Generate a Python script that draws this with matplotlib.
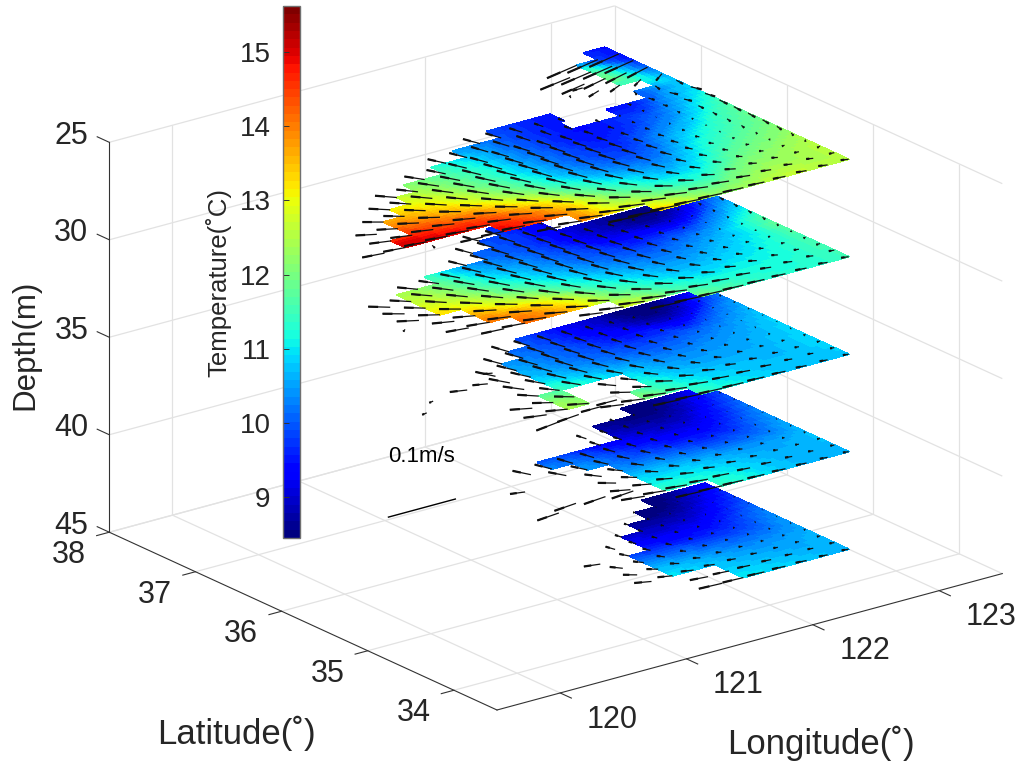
import numpy as np
import matplotlib
matplotlib.use('Agg')
import matplotlib.pyplot as plt
import matplotlib.tri as mtri
from matplotlib.colors import Normalize
from matplotlib.cm import ScalarMappable
from mpl_toolkits.mplot3d import proj3d
from mpl_toolkits.mplot3d.art3d import Poly3DCollection

plt.rcParams['font.family'] = ['Liberation Sans', 'DejaVu Sans']

# ---------- axes data ----------
lon_ticks = [120, 121, 122, 123]
lat_ticks = [34, 35, 36, 37, 38]
depth_ticks = [25, 30, 35, 40, 45]
cbar_ticks = [9, 10, 11, 12, 13, 14, 15]
t_min, t_max = 8.45, 15.62

# ---------- field knots ----------
knot_lon = [120, 120.5, 121, 121.5, 122, 122.5, 123]
knot_lat = [34.5, 35, 35.5, 36, 36.5, 37, 37.5]
row_lat0, cell = 34.55, 1 / 6

T25 = [[15.4, 15.0, 14.2, 13.6, 12.4, 12.7, 12.6],
       [15.2, 14.8, 13.6, 11.8, 11.0, 12.0, 12.5],
       [13.8, 13.2, 11.9, 10.5, 10.0, 11.2, 12.0],
       [12.6, 12.2, 11.3, 10.1, 9.5, 10.2, 11.6],
       [12.0, 11.5, 10.5, 9.9, 9.5, 9.6, 10.8],
       [11.0, 10.5, 10.0, 9.8, 10.0, 12.2, 9.7],
       [10.0, 10.0, 10.0, 9.8, 9.6, 9.6, 9.4]]
T30 = [[14.4, 14.4, 14.2, 13.4, 11.8, 11.3, 11.5],
       [14.4, 14.2, 13.4, 11.6, 10.8, 11.0, 11.6],
       [13.2, 12.8, 11.5, 10.5, 10.0, 10.4, 11.7],
       [12.5, 12.0, 10.5, 9.9, 9.0, 8.7, 10.5],
       [12.0, 11.0, 10.0, 9.7, 8.9, 8.8, 9.8],
       [10.5, 10.0, 9.5, 9.2, 9.0, 9.2, 9.5],
       [10.0, 9.6, 9.4, 9.2, 9.0, 9.2, 9.4]]
T35 = [[13.0, 13.0, 12.8, 12.6, 11.3, 10.8, 10.8],
       [12.6, 12.6, 12.3, 11.5, 10.7, 10.6, 10.9],
       [11.5, 11.4, 11.0, 10.4, 10.0, 10.2, 10.8],
       [10.8, 10.6, 10.4, 10.0, 9.2, 8.6, 10.3],
       [10.4, 10.2, 10.0, 9.8, 9.0, 8.6, 9.6],
       [10.0, 9.8, 9.6, 9.2, 9.0, 8.9, 9.2],
       [9.8, 9.6, 9.4, 9.2, 9.0, 8.9, 9.0]]
T40 = [[13.0, 13.0, 12.5, 12.2, 11.5, 10.8, 10.6],
       [12.0, 12.0, 11.5, 11.0, 10.8, 10.5, 10.7],
       [11.0, 11.0, 10.5, 10.3, 9.6, 9.4, 10.4],
       [10.5, 10.5, 10.2, 9.3, 8.7, 8.6, 9.9],
       [10.0, 10.0, 9.5, 8.9, 8.6, 8.5, 9.4],
       [9.5, 9.5, 9.3, 9.0, 8.7, 8.6, 9.0],
       [9.5, 9.3, 9.2, 9.0, 8.7, 8.6, 8.8]]
T45 = [[12.0, 12.0, 12.0, 11.8, 11.2, 10.9, 10.7],
       [11.5, 11.5, 11.0, 11.0, 10.7, 10.4, 10.6],
       [11.0, 10.8, 10.5, 10.2, 9.4, 9.4, 10.3],
       [10.0, 10.0, 9.8, 9.1, 8.5, 8.5, 9.6],
       [9.5, 9.5, 9.2, 8.7, 8.5, 8.5, 9.1],
       [9.3, 9.3, 9.0, 8.7, 8.6, 8.6, 8.9],
       [9.2, 9.2, 9.0, 8.7, 8.6, 8.6, 8.8]]

U25 = [[-.03, -.03, -.035, -.045, -.035, -.018, -.010],
       [-.03, -.03, -.022, -.015, -.01, -.006, -.005],
       [-.02, -.018, -.012, -.006, -.005, -.003, -.002],
       [-.02, -.015, -.008, -.005, -.003, -.001, -.001],
       [-.02, -.015, -.012, -.007, -.003, -.002, .002],
       [-.03, -.03, -.03, -.025, -.03, -.05, -.05],
       [-.03, -.03, -.03, -.03, -.04, -.05, -.05]]
V25 = [[0, 0, .002, .004, .003, .002, .004],
       [.004, .006, .016, .02, .014, .006, -.005],
       [.016, .02, .028, .032, .024, .005, -.016],
       [.022, .024, .028, .028, .016, 0, -.018],
       [.016, .018, .024, .024, .01, -.008, -.016],
       [.008, .008, .008, .004, 0, -.012, -.015],
       [0, 0, 0, 0, -.01, -.015, -.015]]
U30 = [[-.03, -.03, -.035, -.045, -.035, -.02, -.01],
       [-.03, -.03, -.022, -.015, -.01, -.006, -.005],
       [-.022, -.018, -.012, -.006, -.005, -.003, -.002],
       [-.02, -.015, -.008, -.005, -.003, -.001, -.001],
       [-.02, -.015, -.012, -.006, -.003, -.002, .001],
       [-.025, -.025, -.016, -.016, -.008, -.004, -.008],
       [-.025, -.025, -.016, -.016, -.008, -.008, -.008]]
V30 = [[0, 0, .002, .004, .002, .002, .003],
       [.004, .006, .016, .02, .014, .006, -.002],
       [.016, .02, .028, .03, .022, .003, -.008],
       [.02, .022, .028, .028, .016, 0, -.01],
       [.016, .016, .024, .024, .01, -.005, -.01],
       [.008, .008, .008, .004, 0, 0, -.004],
       [0, 0, 0, 0, 0, 0, 0]]
U35 = [[-.03, -.03, -.035, -.04, -.035, -.02, -.008],
       [-.03, -.03, -.022, -.015, -.01, -.006, -.004],
       [-.024, -.02, -.012, -.006, -.005, -.002, -.001],
       [-.016, -.016, -.008, -.005, -.002, -.001, -.001],
       [-.016, -.016, -.01, -.005, -.002, -.001, .001],
       [-.016, -.016, -.008, -.008, -.004, -.002, -.002],
       [-.016, -.016, -.008, -.008, -.004, -.002, -.002]]
V35 = [[0, .003, .003, .003, .002, .002, .002],
       [.006, .008, .014, .018, .012, .004, -.001],
       [.01, .018, .028, .03, .018, .002, -.002],
       [.01, .018, .028, .028, .014, 0, -.004],
       [.008, .012, .024, .024, .009, -.002, -.005],
       [.004, .004, .004, .004, 0, 0, -.002],
       [0, 0, 0, 0, 0, 0, 0]]
U40 = [[-.03, -.03, -.035, -.04, -.035, -.02, -.008],
       [-.03, -.03, -.025, -.018, -.01, -.005, -.003],
       [-.02, -.02, -.012, -.006, -.004, -.002, -.001],
       [-.012, -.012, -.008, -.004, -.002, -.001, 0],
       [-.012, -.012, -.008, -.004, -.002, -.001, 0],
       [-.008, -.008, -.008, -.004, -.002, -.001, 0],
       [-.008, -.008, -.008, -.004, -.002, -.001, 0]]
V40 = [[-.004, 0, .002, .002, .002, .002, .002],
       [.004, .006, .012, .014, .009, .003, 0],
       [.008, .014, .024, .026, .015, .002, -.001],
       [.008, .014, .024, .024, .012, 0, -.002],
       [.008, .01, .02, .02, .007, -.002, -.002],
       [.004, .004, .004, .004, 0, 0, -.002],
       [0, 0, 0, 0, 0, 0, 0]]
U45 = [[-.03, -.03, -.035, -.035, -.035, -.02, -.01],
       [-.03, -.03, -.022, -.016, -.01, -.005, -.003],
       [-.016, -.016, -.012, -.006, -.003, -.002, -.001],
       [-.01, -.01, -.008, -.003, -.002, -.001, 0],
       [-.01, -.01, -.008, -.003, -.002, -.001, 0],
       [-.008, -.008, -.008, -.003, -.002, -.001, 0],
       [-.008, -.008, -.008, -.003, -.002, -.001, 0]]
V45 = [[-.003, 0, .002, .002, .002, .002, .002],
       [.003, .005, .01, .012, .007, .002, 0],
       [.006, .012, .02, .022, .012, .002, -.001],
       [.006, .012, .02, .02, .01, 0, -.002],
       [.006, .008, .016, .016, .006, -.002, -.002],
       [.003, .003, .003, .003, 0, 0, -.002],
       [0, 0, 0, 0, 0, 0, 0]]

# wet cells: longitude spans for each latitude row, south to north
S25 = [[(121.5, 123)], [(121.0, 123)], [(120.5, 123)], [(119.83, 123)], [(120.0, 123)],
       [(120.0, 123)], [(120.17, 123)], [(120.33, 123)], [(120.5, 123)], [(120.83, 123)],
       [(121.17, 121.95), (122.33, 123)], [(121.5, 122.0), (122.67, 123)], [(122.83, 123)],
       [(122.67, 123)], [(122.67, 123)], [(122.67, 123)], [(122.83, 123)]]
S30 = [[(121.83, 123)], [(121.33, 123)], [(120.67, 123)], [(120.5, 123)], [(120.5, 123)],
       [(120.33, 123)], [(120.33, 123)], [(120.33, 123)], [(120.67, 123)], [(121.17, 123)],
       [(121.33, 121.83)], [(121.5, 121.83)]]
S35 = [[(121.83, 123)], [(121.5, 123)], [(121.0, 121.17), (121.67, 123)],
       [(121.0, 121.17), (121.67, 123)], [(121.17, 123)], [(121.17, 123)], [(121.17, 123)],
       [(121.17, 123)], [(121.33, 123)], [(121.5, 123)]]
S40 = [[(122.0, 123)], [(121.67, 123)], [(121.67, 123)], [(121.67, 123)], [(121.67, 123)],
       [(121.5, 123)], [(121.33, 123)], [(122.0, 123)], [(122.0, 123)], [(122.33, 123)]]
S45 = [[(122.17, 123)], [(122.17, 123)], [(121.83, 123)], [(121.83, 123)], [(121.83, 123)],
       [(122.0, 123)], [(122.0, 123)], [(122.17, 123)], [(122.33, 123)], [(122.5, 123)]]

# isolated current arrows off the shaded area: lon, lat, u, v
X25 = [(119.99, 34.97, -.003, -.01), (122.28, 36.72, .004, .008), (122.45, 36.83, -.015, 0)]
X30 = [(120.0, 35.3, -.006, -.005)]
X35 = [(120.71, 35.62, -.02, .008), (120.88, 35.63, -.017, .008), (121.02, 35.78, -.01, .005),
       (120.26, 35.43, -.008, -.002), (120.42, 35.59, -.007, -.002), (120.83, 34.72, -.04, -.008),
       (121.0, 34.75, -.035, -.005), (121.2, 34.78, -.03, 0), (121.35, 34.82, -.03, 0)]
X40 = [(120.89, 34.82, -.035, -.005), (121.08, 34.9, -.035, -.005), (121.3, 34.88, -.035, -.005),
       (121.5, 34.85, -.035, -.005), (120.95, 35.3, -.018, .006)]
X45 = [(121.6, 35.38, -.02, .006)]

layers = [(45, T45, U45, V45, S45, X45), (40, T40, U40, V40, S40, X40),
          (35, T35, U35, V35, S35, X35), (30, T30, U30, V30, S30, X30),
          (25, T25, U25, V25, S25, X25)]

scale_lon, scale_lat = 119.5, 33.5
lon_end, lat_end = 123.5, 38.0
ref_lon, ref_lat, ref_u = 121.05, 37.04, 0.1
deg_per_ms = 5.4

W, H = 1017, 764
fig = plt.figure(figsize=(W / 100, H / 100), dpi=100, facecolor='white')
ax = fig.add_axes([0, 0, 1, 1], projection='3d', computed_zorder=False)
ax.set_proj_type('ortho')
ax.view_init(elev=20.6, azim=-127.5)
ax.set_xlim(scale_lon, lon_end, view_margin=0)
ax.set_ylim(scale_lat, lat_end, view_margin=0)
ax.set_zlim(45, 25, view_margin=0)
ax.set_xticks([])
ax.set_yticks([])
ax.set_zticks([])
ax.set_axis_off()
ax.patch.set_alpha(0)
aspect = (1, 1, 0.654)


def to_px(x, y, z):
    ax.apply_aspect()
    px, py, _ = proj3d.proj_transform(x, y, z, ax.get_proj())
    return np.array(ax.transData.transform((px, py)))


# fit the projected box on the reference corners
ax.set_box_aspect(aspect, zoom=1)
a, b = to_px(scale_lon, lat_end, 45), to_px(lon_end, scale_lat, 45)
zoom = np.hypot(*(np.array([1002 - 109, 574 - 532]))) / np.hypot(*(b - a))
ax.set_box_aspect(aspect, zoom=zoom)
f = to_px(scale_lon, scale_lat, 45)
shift = np.array([497, H - 710]) - f
ax.set_position([shift[0] / W, shift[1] / H, 1, 1])

GRID = '#e2e2e2'
DARK = '#333333'
TXT = '#262626'


def label3d(x, y, z, s, size):
    p = to_px(x, y, z)
    fig.text(p[0] / W, p[1] / H, s, ha='center', va='center', fontsize=size, color=TXT)


grid_kw = dict(color=GRID, lw=0.9, zorder=1, solid_capstyle='butt')
for lon in lon_ticks:
    ax.plot([lon, lon], [scale_lat, lat_end], [45, 45], **grid_kw)
    ax.plot([lon, lon], [lat_end, lat_end], [45, 25], **grid_kw)
for lat in lat_ticks:
    ax.plot([scale_lon, lon_end], [lat, lat], [45, 45], **grid_kw)
    ax.plot([lon_end, lon_end], [lat, lat], [45, 25], **grid_kw)
for d in depth_ticks:
    ax.plot([scale_lon, lon_end], [lat_end, lat_end], [d, d], **grid_kw)
    ax.plot([lon_end, lon_end], [scale_lat, lat_end], [d, d], **grid_kw)

axis_kw = dict(color=DARK, lw=0.8, zorder=2)
ax.plot([scale_lon, lon_end], [scale_lat, scale_lat], [45, 45], **axis_kw)
ax.plot([scale_lon, scale_lon], [scale_lat, lat_end], [45, 45], **axis_kw)
ax.plot([scale_lon, scale_lon], [lat_end, lat_end], [45, 25], **axis_kw)
for lon in lon_ticks:
    ax.plot([lon, lon], [scale_lat, scale_lat - 0.13], [45, 45], **axis_kw)
    label3d(lon, scale_lat - 0.6, 45.15, str(lon), 22)
for lat in lat_ticks:
    ax.plot([scale_lon, scale_lon - 0.1], [lat, lat], [45, 45], **axis_kw)
    label3d(scale_lon - 0.45, lat - 0.19, 45, str(lat), 22)
for d in depth_ticks:
    ax.plot([scale_lon, scale_lon], [lat_end, lat_end + 0.14], [d, d], **axis_kw)
    label3d(scale_lon, lat_end + 0.44, d + 0.55, str(d), 22)

# temperature slices and currents
cmap = plt.get_cmap('jet', 64)
norm = Normalize(t_min, t_max)
klon, klat = np.meshgrid(knot_lon, knot_lat)
tri = mtri.Triangulation(klon.ravel(), klat.ravel())


def field(values, lon, lat):
    interp = mtri.CubicTriInterpolator(tri, np.asarray(values, float).ravel(), kind='geom')
    return np.ma.filled(interp(np.clip(lon, 120, 123), np.clip(lat, 34.5, 37.5)), np.nan)


sub = 4
z_order = 10
for depth, T, U, V, spans, extra in layers:
    polys, centres_lon, centres_lat = [], [], []
    ax_lon, ax_lat = [], []
    for i, row in enumerate(spans):
        lat0 = row_lat0 + i * cell
        for lo, hi in row:
            n = int(round((hi - lo) / cell))
            lo_s = hi - n * cell
            for k in range(n * sub):
                for j in range(sub):
                    x0 = lo_s + k * cell / sub
                    y0 = lat0 + j * cell / sub
                    dx, dy = cell / sub, cell / sub
                    polys.append([(x0, y0, depth), (x0 + dx, y0, depth),
                                  (x0 + dx, y0 + dy, depth), (x0, y0 + dy, depth)])
                    centres_lon.append(x0 + dx / 2)
                    centres_lat.append(y0 + dy / 2)
            for k in range(-1, n + 1):
                ax_lon.append(lo_s + k * cell)
                ax_lat.append(lat0)
    temp = field(T, np.array(centres_lon), np.array(centres_lat))
    cols = cmap(norm(temp))
    pc = Poly3DCollection(polys, facecolors=cols, edgecolors=cols, linewidths=0.6,
                          antialiaseds=False, zorder=z_order)
    ax.add_collection3d(pc)
    ax_lon, ax_lat = np.array(ax_lon), np.array(ax_lat)
    u, v = field(U, ax_lon, ax_lat), field(V, ax_lon, ax_lat)
    if extra:
        e = np.array(extra, float)
        ax_lon = np.r_[ax_lon, e[:, 0]]
        ax_lat = np.r_[ax_lat, e[:, 1]]
        u = np.r_[u, e[:, 2]]
        v = np.r_[v, e[:, 3]]
    zz = np.full(ax_lon.shape, float(depth))
    du, dv = u * deg_per_ms, v * deg_per_ms
    ax.quiver(ax_lon, ax_lat, zz, du, dv, 0 * du, arrow_length_ratio=0,
              color='#111111', linewidth=0.9, zorder=z_order + 1)
    ax.quiver(ax_lon + 0.55 * du, ax_lat + 0.55 * dv, zz, 0.45 * du, 0.45 * dv, 0 * du,
              arrow_length_ratio=0, color='#111111', linewidth=1.6, zorder=z_order + 1)
    z_order += 2

# reference arrow
ax.quiver([ref_lon], [ref_lat], [45.0], [ref_u * deg_per_ms], [0.0], [0.0], arrow_length_ratio=0,
          color='black', linewidth=1.0, zorder=30)

for artist in ax.get_children():
    artist.set_clip_on(False)


def fxy(px, py):
    return px / W, 1 - py / H


fig.text(*fxy(388, 457), '0.1m/s', fontsize=16, color='black', ha='left', va='center')
fig.text(*fxy(25, 345), 'Depth(m)', fontsize=22.5, rotation=90, color=TXT, ha='center', va='center')
fig.text(*fxy(236, 733), 'Latitude(˚)', fontsize=25, color=TXT, ha='center', va='center')
fig.text(*fxy(821, 743), 'Longitude(˚)', fontsize=25, color=TXT, ha='center', va='center')
fig.text(*fxy(218, 283), 'Temperature(˚C)', fontsize=18.5, rotation=90, color=TXT, ha='center', va='center')

# colour bar
cax = fig.add_axes([283 / W, 1 - 538 / H, 17 / W, 532 / H])
cb = fig.colorbar(ScalarMappable(norm=norm, cmap=cmap), cax=cax)
cb.set_ticks(cbar_ticks)
cax.yaxis.set_ticks_position('left')
cax.tick_params(axis='y', direction='in', length=4, width=0.7, labelsize=20, labelcolor=TXT,
                color='#333333', pad=9)
cb.outline.set_edgecolor('#707070')
cb.outline.set_linewidth(1.0)

fig.savefig('out.png', dpi=100)
